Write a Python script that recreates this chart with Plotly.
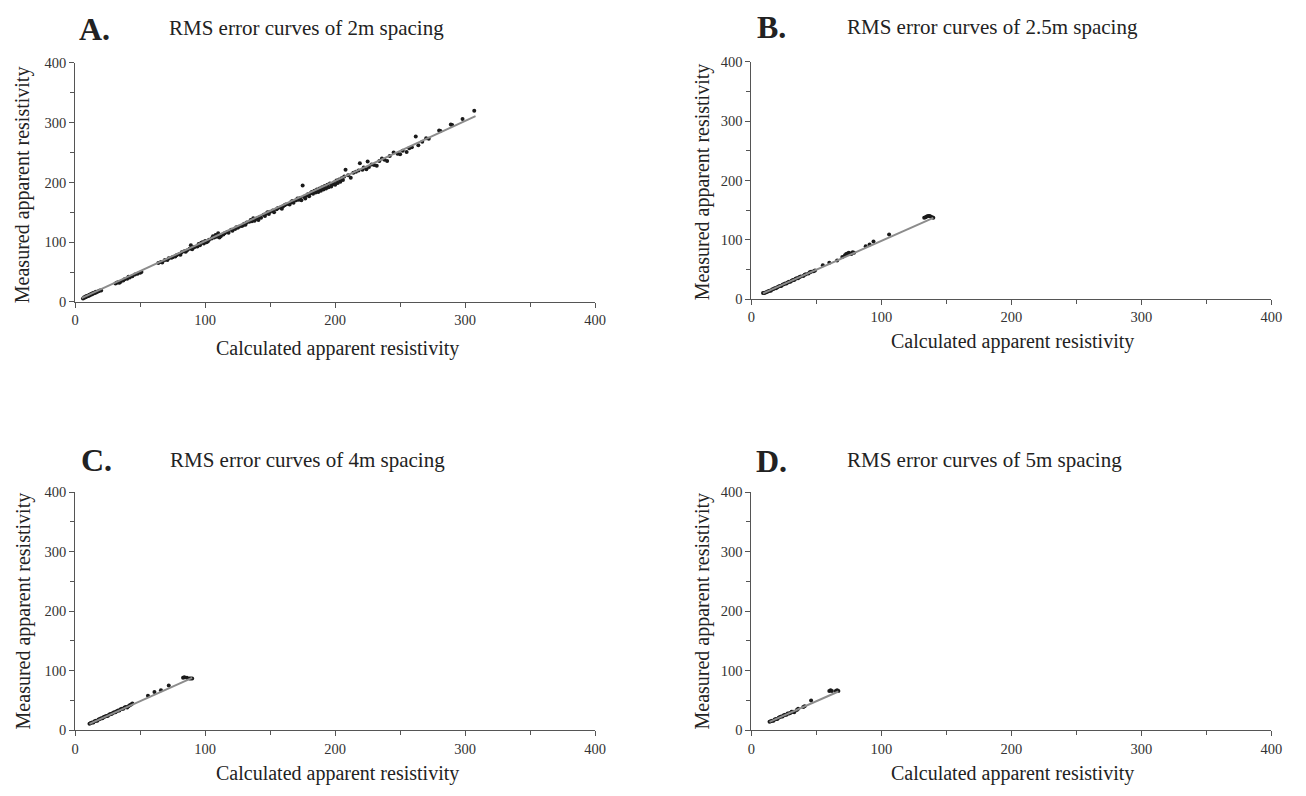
import plotly.graph_objects as go

# ---------------- data ----------------
a_calc = [6,7,7,8,8,9,9,10,10,11,11,12,12,13,13,14,14,15,15,16,16,17,18,19,20,
          31,32,33,34,35,37,38,40,41,42,44,46,48,50,51,
          64,66,67,69,71,72,74,75,77,78,80,81,82,84,85,86,88,89,90,91,92,94,95,96,97,98,99,
          100,101,102,103,105,106,107,108,109,110,111,112,114,115,117,118,120,121,123,124,125,
          126,128,129,130,131,132,134,135,136,137,138,139,140,141,142,143,145,146,147,148,149,
          150,152,153,155,156,158,159,160,161,162,164,165,166,167,168,170,171,172,173,174,175,
          176,177,178,179,180,181,182,183,184,185,186,187,188,189,190,191,192,193,194,195,196,
          197,198,199,200,201,202,203,204,205,206,207,208,210,212,214,216,218,219,221,222,224,
          225,226,228,230,232,234,236,238,240,242,245,248,250,252,255,257,259,262,264,267,270,
          272,280,281,289,290,298,307]
a_meas = [6,7,8,8,9,9,10,10,11,11,12,12,13,13,14,14,15,15,16,16,17,17,18,19,19,
          31,32,33,32,34,36,38,39,42,41,43,46,47,49,50,
          65,67,66,70,70,73,74,75,76,78,80,79,83,85,84,86,89,95,88,91,92,93,97,95,99,100,98,
          102,100,101,104,106,110,108,112,109,115,108,110,113,115,117,116,121,119,122,125,124,
          126,127,128,131,129,133,134,137,135,140,136,139,140,137,142,141,146,144,148,150,147,
          151,153,150,155,157,158,156,160,162,163,164,163,167,169,166,170,173,171,174,170,195,
          176,173,178,180,177,182,184,181,186,183,188,184,190,186,192,188,194,190,196,192,198,
          193,197,200,196,203,199,205,201,207,204,210,221,212,208,216,218,220,232,221,225,222,
          235,226,230,229,228,236,240,238,236,244,250,248,247,253,251,257,259,277,262,268,274,
          273,287,286,297,296,306,320]
a_fit_x = [5, 308]
a_fit_y = [6.5, 311]

b_calc = [9,10,11,12,13,14,15,16,17,18,19,20,21,22,23,24,25,26,27,28,29,30,31,32,33,34,35,36,
          37,38,40,41,42,44,45,46,48,49,55,60,66,70,72,73,74,75,76,77,78,79,88,91,94,106,
          133,134,135,136,137,138,139,140]
b_meas = [10,10,11,12,13,14,14,16,17,18,18,20,21,22,22,24,25,26,26,28,29,29,31,32,32,34,35,35,
          37,38,39,41,42,43,45,46,47,48,57,61,65,71,74,76,77,78,77,76,79,78,89,92,97,109,
          137,138,139,140,140,139,138,137]
b_fit_x = [9, 140]
b_fit_y = [9.5, 137]

c_calc = [11,12,13,14,15,16,17,18,19,20,21,22,23,24,25,26,27,28,29,30,31,32,33,34,35,36,37,
          38,39,40,41,42,43,44,56,61,66,72,83,84,86,88,89,90]
c_meas = [11,12,13,13,15,16,16,18,19,20,20,22,23,24,24,26,27,27,29,30,30,32,33,33,35,36,36,
          38,39,38,40,42,43,45,58,64,67,75,88,89,88,87,87,87]
c_fit_x = [11, 90]
c_fit_y = [10.5, 88]

d_calc = [14,15,16,17,18,19,20,21,22,23,24,25,26,27,28,29,30,31,32,33,35,36,40,41,46,
          60,61,62,65,66,67]
d_meas = [14,15,16,16,18,19,19,21,22,23,23,25,26,26,28,28,29,31,31,30,34,36,39,40,50,
          66,67,66,66,67,66]
d_fit_x = [14, 67]
d_fit_y = [14, 65]

panels = [
    ("A.", "RMS error curves of 2m spacing", a_calc, a_meas, a_fit_x, a_fit_y),
    ("B.", "RMS error curves of 2.5m spacing", b_calc, b_meas, b_fit_x, b_fit_y),
    ("C.", "RMS error curves of 4m spacing", c_calc, c_meas, c_fit_x, c_fit_y),
    ("D.", "RMS error curves of 5m spacing", d_calc, d_meas, d_fit_x, d_fit_y),
]
x_title = "Calculated apparent resistivity"
y_title = "Measured apparent resistivity"
tick_vals = [0, 100, 200, 300, 400]

# ---------------- layout geometry (pixels in 1306x796) ----------------
W, H = 1306, 796
# plot boxes: (left, right, top, bottom)
boxes = [(72, 598, 56, 300), (756, 1282, 55, 297), (72, 598, 494, 737), (756, 1282, 494, 737)]
letter_pos = [(92, 21), (776, 19), (94, 461), (776, 462)]
title_pos = [(306, 20), (1000, 19), (307, 461), (992, 461)]
xt_pos = [(337, 347), (1020, 340), (337, 781), (1020, 781)]
yt_pos = [(19, 180), (707, 177), (20, 615), (707, 615)]

FONT = "Liberation Serif, Times New Roman, serif"
AXC = "#555555"

fig = go.Figure()
layout = dict(
    width=W, height=H, margin=dict(l=0, r=0, t=0, b=0),
    paper_bgcolor="white", plot_bgcolor="white", showlegend=False,
    font=dict(family=FONT, color="#333333", size=14),
)
annotations = []

def px(x):
    return x / W

def py(y):
    return 1 - y / H

for i, (letter, title, xc, ym, fx, fy) in enumerate(panels):
    n = "" if i == 0 else str(i + 1)
    xa, ya = "x" + n, "y" + n
    fig.add_trace(go.Scatter(x=xc, y=ym, mode="markers", xaxis=xa, yaxis=ya,
                             marker=dict(size=4, color="#1a1a1a")))
    fig.add_trace(go.Scatter(x=fx, y=fy, mode="lines", xaxis=xa, yaxis=ya,
                             line=dict(color="#8c8c8c", width=2)))
    l, r, t, b = boxes[i]
    common = dict(range=[0, 400], showgrid=False, zeroline=False, showline=True,
                  linecolor=AXC, linewidth=1, ticks="outside", ticklen=5, tickcolor=AXC,
                  tickvals=tick_vals, tickfont=dict(family=FONT, size=14.5, color="#333333"),
                  minor=dict(tickvals=[50, 150, 250, 350], ticks="outside", ticklen=4,
                             tickcolor=AXC, showgrid=False),
                  fixedrange=True)
    layout["xaxis" + n] = dict(domain=[px(l), px(r)], anchor=ya, **common)
    layout["yaxis" + n] = dict(domain=[py(b), py(t)], anchor=xa, **common)

    annotations.append(dict(text="<b>" + letter + "</b>", x=px(letter_pos[i][0]), y=py(letter_pos[i][1]),
                            xref="paper", yref="paper", showarrow=False, xanchor="center", yanchor="middle",
                            font=dict(family=FONT, size=32, color="#222222")))
    annotations.append(dict(text=title, x=px(title_pos[i][0]), y=py(title_pos[i][1]),
                            xref="paper", yref="paper", showarrow=False, xanchor="center", yanchor="middle",
                            font=dict(family=FONT, size=21, color="#222222")))
    annotations.append(dict(text=x_title, x=px(xt_pos[i][0]), y=py(xt_pos[i][1]),
                            xref="paper", yref="paper", showarrow=False, xanchor="center", yanchor="middle",
                            font=dict(family=FONT, size=20, color="#222222")))
    annotations.append(dict(text=y_title, x=px(yt_pos[i][0]), y=py(yt_pos[i][1]), textangle=-90,
                            xref="paper", yref="paper", showarrow=False, xanchor="center", yanchor="middle",
                            font=dict(family=FONT, size=20, color="#222222")))

layout["annotations"] = annotations
fig.update_layout(**layout)
fig.write_html("out.html", config={"displayModeBar": False},
               post_script="document.body.style.margin='0';document.body.style.overflow='hidden';")
